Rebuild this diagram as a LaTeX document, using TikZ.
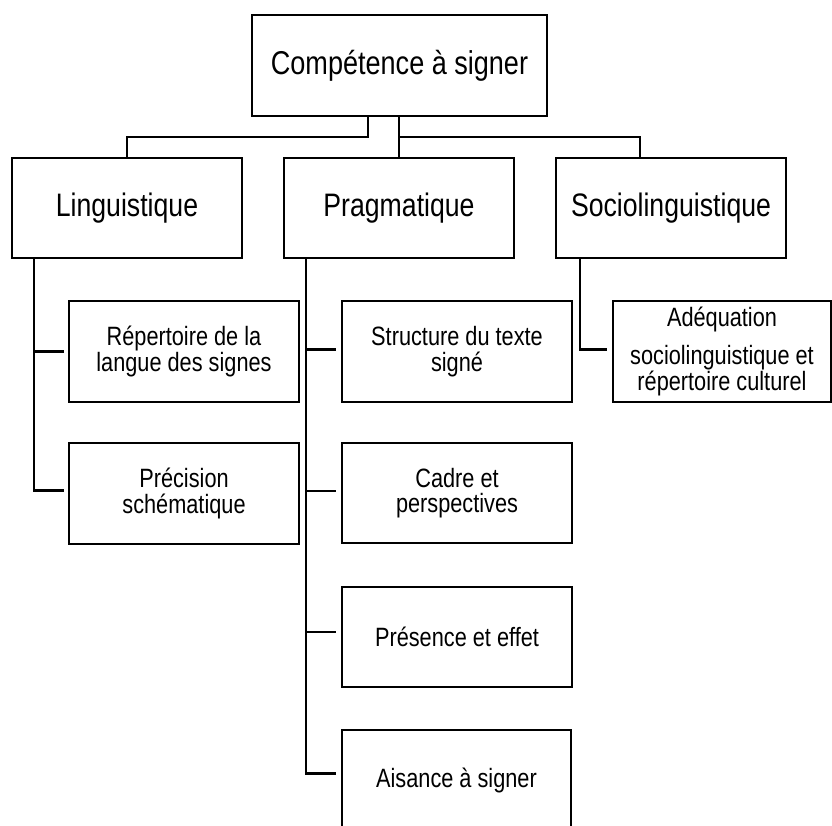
\documentclass[tikz,border=0pt]{standalone}
\usepackage{fontspec}
\newfontfamily\nf[FakeStretch=0.82]{Liberation Sans}
\begin{document}
\begin{tikzpicture}[x=1pt,y=-1pt,
  box/.style={draw=black,line width=1.8pt,inner sep=0pt,align=center,anchor=center},
  topbox/.style={box,minimum width=295pt,minimum height=101pt,font=\nf\fontsize{33}{38}\selectfont},
  midbox/.style={box,minimum width=230pt,minimum height=100pt,font=\nf\fontsize{32.5}{38}\selectfont},
  leafbox/.style={box,minimum width=230pt,minimum height=101pt,font=\nf\fontsize{26.5}{25.5}\selectfont},
  conn/.style={draw=black,line width=2.6pt}]
\useasboundingbox (0,0) rectangle (832,826);
\clip (0,0) rectangle (832,826);
\fill[white] (0,0) rectangle (832,826);

\node[topbox] (top) at (399.5,65.5) {Compétence à signer};

\node[midbox] (ling)  at (127,208) {Linguistique};
\node[midbox] (prag)  at (399,208) {Pragmatique};
\node[midbox] (socio) at (671,208) {Sociolinguistique};

\node[leafbox] (rep)  at (184,351.5) {Répertoire de la\\langue des signes};
\node[leafbox] (prec) at (184,493.5) {Précision\\schématique};

\node[leafbox] (struct) at (457,351.5) {Structure du texte\\signé};
\node[leafbox,minimum height=100pt] (cadre) at (457,493) {Cadre et\\perspectives};
\node[leafbox,minimum height=100pt] (pres) at (457,637) {Présence et effet};
\node[leafbox,minimum width=229pt] (ais) at (456.5,780.5) {Aisance à signer};

\node[leafbox,minimum width=218pt] (adeq) at (722,351.5) {Adéquation\\[12.8pt]sociolinguistique et\\répertoire culturel};

% top level connectors
\draw[conn] ([xshift=-31.5]top.south) -- ++(0,20) -| (ling.north);
\draw[conn] (top.south -| prag.north) -- (prag.north);
\draw[conn] ([xshift=0.5]top.south) ++(0,20) -| ([xshift=-31]socio.north);

% linguistique children
\draw[conn] ([xshift=23]ling.south west) |- ([xshift=-4]rep.west);
\draw[conn] ([xshift=23]ling.south west) |- ([xshift=-4,yshift=3]prec.west);

% pragmatique children
\draw[conn] ([xshift=23]prag.south west) |- ([xshift=-5,yshift=2]struct.west);
\draw[conn] ([xshift=23]prag.south west) |- ([xshift=-5,yshift=2]cadre.west);
\draw[conn] ([xshift=23]prag.south west) |- ([xshift=-5,yshift=5]pres.west);
\draw[conn] ([xshift=23]prag.south west) |- ([xshift=-5,yshift=7]ais.west);

% sociolinguistique child
\draw[conn] ([xshift=25]socio.south west) |- ([xshift=-5,yshift=2]adeq.west);
\end{tikzpicture}
\end{document}
